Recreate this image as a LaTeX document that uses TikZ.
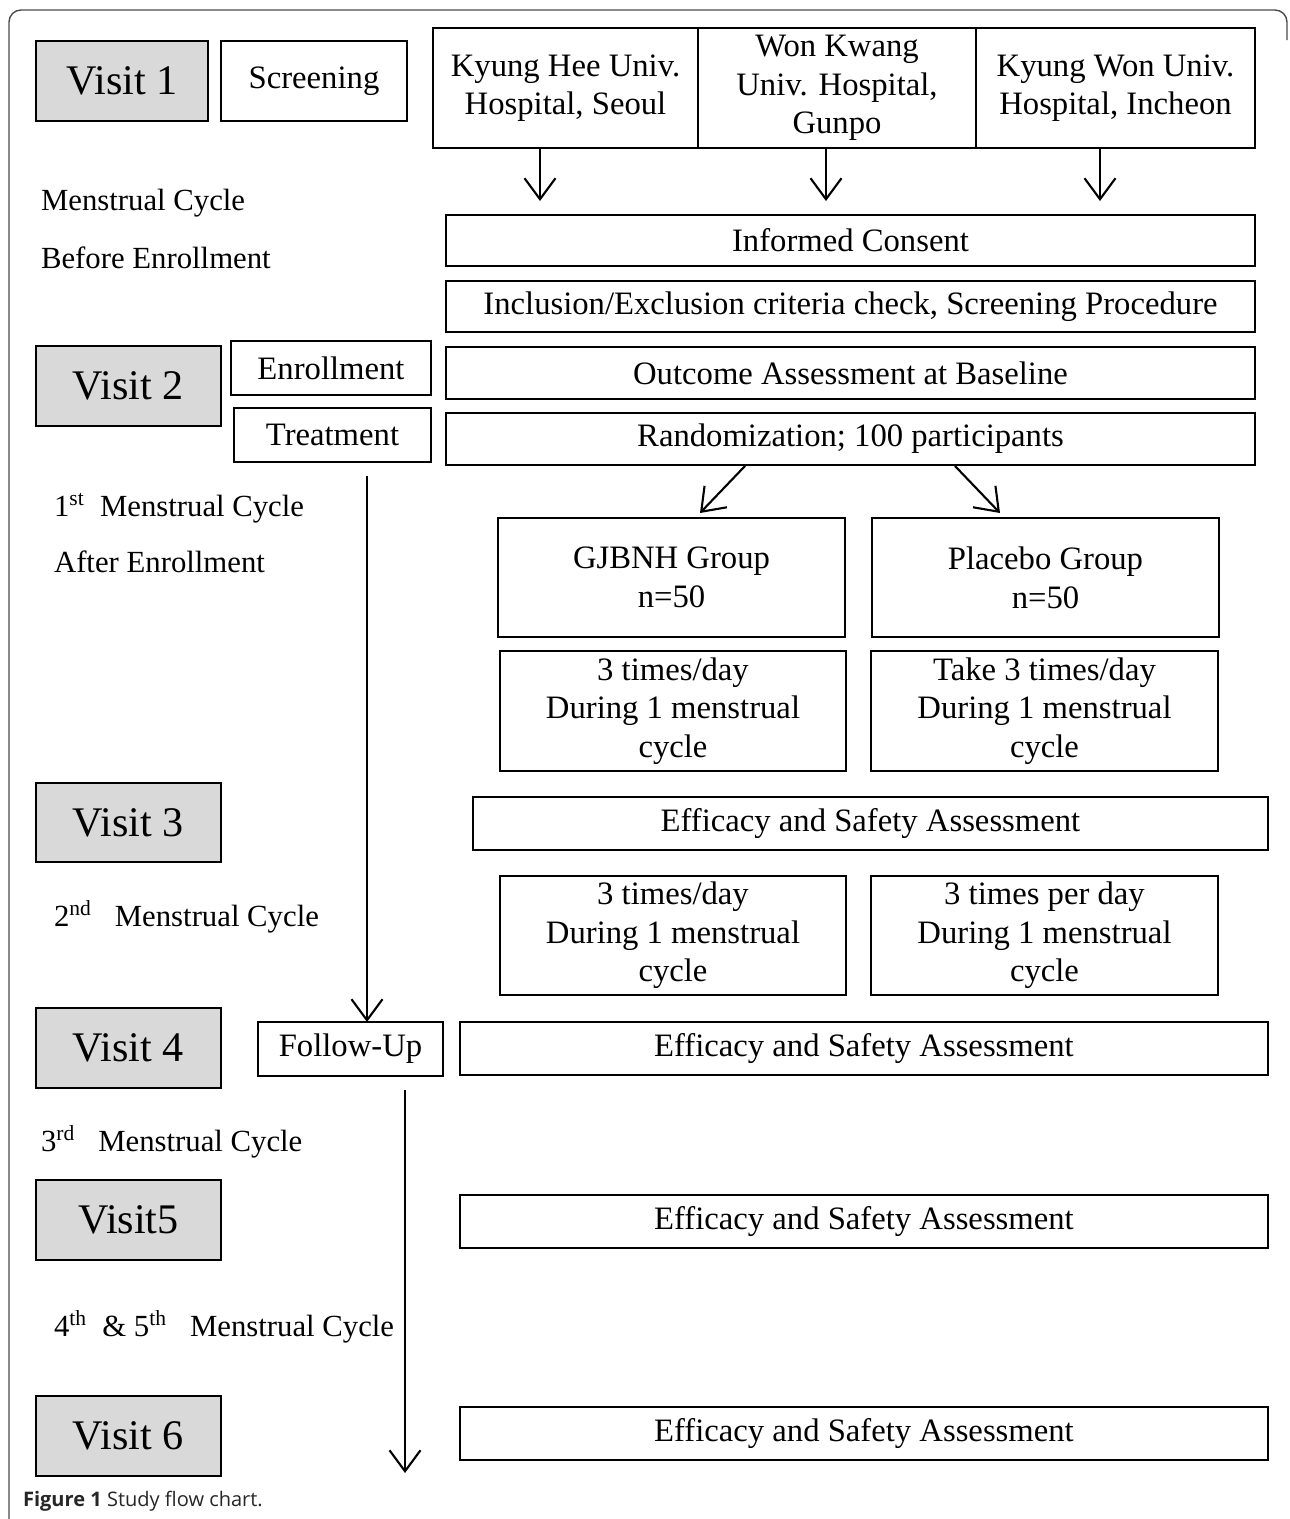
\documentclass[tikz,border=0pt]{standalone}
\usepackage{fontspec}
\setmainfont{Liberation Serif}
\newfontfamily\capfont{Open Sans}
\usetikzlibrary{arrows.meta}

\begin{document}
\begin{tikzpicture}[x=0.02cm,y=-0.02cm,line width=1.2pt,>={Straight Barb[length=0.42cm,width=0.62cm,line width=1.2pt]}]
\tikzset{box/.style={draw=black,line width=1.3pt,inner sep=0pt,outer sep=0pt,anchor=north west,align=center,
    font=\fontsize{18.6}{22}\selectfont},
  sz/.style 2 args={minimum width=#1*0.02cm,minimum height=#2*0.02cm},
  visit/.style={box,fill=gray!30,font=\fontsize{24}{27}\selectfont},
  side/.style={anchor=west,inner sep=0pt,font=\fontsize{17.5}{20}\selectfont},
  flow/.style={line width=1.2pt,->}}
\useasboundingbox (0,0) rectangle (1290,1519);
% ---------- frame ----------
\draw[line width=0.8pt,black!70,rounded corners=0.24cm] (9,1519) -- (9,10) -- (1287,10) -- (1287,40);
% ---------- visit 1 ----------
\node[visit,sz={172}{80}] (v1) at (36,41) {Visit 1};
\node[box,sz={186}{80}] (scr) at (221,41) {Screening};
\node[box,sz={265}{120}] (kh) at (433,28) {Kyung Hee Univ.\\Hospital, Seoul};
\node[box,sz={278}{120}] (wk) at (698,28) {Won Kwang\\Univ. Hospital,\\Gunpo};
\node[box,sz={279}{120}] (kw) at (976,28) {Kyung Won Univ.\\Hospital, Incheon};
\node[side] (mc0) at (40,203) {Menstrual Cycle};
\node[side] (be) at (40,258) {Before Enrollment};
\node[box,sz={809}{51}] (ic) at (446,215) {Informed Consent};
\node[box,sz={809}{51}] (incl) at (446,281) {Inclusion/Exclusion criteria check, Screening Procedure};
\coordinate (h1) at (540,201);
\coordinate (h2) at (826,201);
\coordinate (h3) at (1100,201);
\draw[flow] (kh.south -| h1) -- (h1);
\draw[flow] (wk.south -| h2) -- (h2);
\draw[flow] (kw.south -| h3) -- (h3);
% ---------- visit 2 ----------
\node[visit,sz={185}{80}] (v2) at (36,346) {Visit 2};
\node[box,sz={200}{54}] (enr) at (231,341) {Enrollment};
\node[box,sz={197}{54}] (trt) at (234,408) {Treatment};
\node[box,sz={809}{52}] (base) at (446,347) {Outcome Assessment at Baseline};
\node[box,sz={809}{52}] (rnd) at (446,413) {Randomization; 100 participants};
\node[side] (mc1) at (53,508) {1\textsuperscript{st}~~Menstrual Cycle};
\node[side] (ae) at (53,562) {After Enrollment};
\node[box,sz={347}{119}] (gj) at (498,518) {GJBNH Group\\n=50};
\node[box,sz={347}{119}] (pl) at (872,518) {Placebo Group\\n=50};
\coordinate (r1) at (745,466);
\coordinate (r2) at (955,466);
\coordinate (g1) at (700,513);
\coordinate (p1) at (1000,513);
\draw[flow] (r1) -- (g1);
\draw[flow] (r2) -- (p1);
\node[box,sz={346}{120}] (gjd) at (500,651) {3 times/day\\During 1 menstrual\\cycle};
\node[box,sz={347}{120}] (pld) at (871,651) {Take 3 times/day\\During 1 menstrual\\cycle};
% ---------- visit 3 ----------
\node[visit,sz={185}{79}] (v3) at (36,783) {Visit 3};
\node[box,sz={795}{53}] (ea1) at (473,797) {Efficacy and Safety Assessment};
\node[side] (mc2) at (53,917) {2\textsuperscript{nd}~~~Menstrual Cycle};
\node[box,sz={346}{119}] (gjd2) at (500,876) {3 times/day\\During 1 menstrual\\cycle};
\node[box,sz={347}{119}] (pld2) at (871,876) {3 times per day\\During 1 menstrual\\cycle};
% ---------- visit 4 ----------
\node[visit,sz={185}{80}] (v4) at (36,1008) {Visit 4};
\node[box,sz={185}{54}] (fu) at (258,1022) {Follow-Up};
\node[box,sz={808}{53}] (ea2) at (460,1022) {Efficacy and Safety Assessment};
\coordinate (t1) at (367,476);
\draw[flow] (t1) -- (t1 |- fu.north);
\node[side] (mc3) at (40,1142) {3\textsuperscript{rd}~~~Menstrual Cycle};
% ---------- visit 5 and 6 ----------
\node[visit,sz={185}{80}] (v5) at (36,1180) {Visit5};
\node[box,sz={808}{53}] (ea3) at (460,1195) {Efficacy and Safety Assessment};
\node[side] (mc4) at (53,1327) {4\textsuperscript{th}~~\& 5\textsuperscript{th}~~~Menstrual Cycle};
\node[visit,sz={185}{80}] (v6) at (36,1396) {Visit 6};
\node[box,sz={808}{53}] (ea4) at (460,1407) {Efficacy and Safety Assessment};
\coordinate (f1) at (405,1090);
\coordinate (f2) at (405,1473);
\draw[flow] (f1) -- (f2);
% ---------- caption ----------
\node[anchor=west,inner sep=0pt,text=black!85,font=\capfont\fontsize{11.4}{13}\selectfont] (cap) at (22,1501)
  {\textbf{Figure 1} Study flow chart.};
\end{tikzpicture}
\end{document}
